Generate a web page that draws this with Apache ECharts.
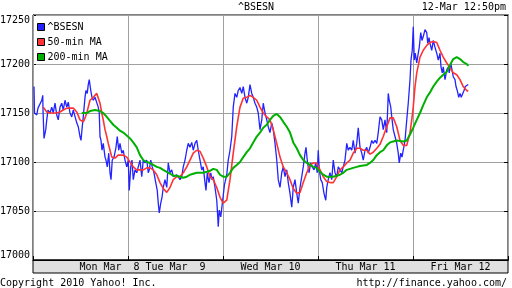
<!DOCTYPE html>
<html>
<head>
<meta charset="utf-8">
<script src="https://cdn.jsdelivr.net/npm/echarts@6/dist/echarts.min.js"></script>
<style>
html,body{margin:0;padding:0;background:#fff;}
#chart{width:512px;height:288px;}
</style>
</head>
<body>
<div id="chart"></div>
<script>
// time: trading minutes since Monday open (one trading day = 380 units on the axis)
const dayLabels = ['Mon Mar  8', 'Tue Mar  9', 'Wed Mar 10', 'Thu Mar 11', 'Fri Mar 12'];
const yTicks = [17000, 17050, 17100, 17150, 17200, 17250];

const bsesn = [[4,17177],[6,17150],[15,17148],[20,17155],[28,17156],[35,17163],[39,17168],[40,17153],[44,17124],[51,17133],[55,17143],[60,17153],[68,17150],[75,17156],[81,17150],[88,17160],[95,17148],[101,17143],[108,17156],[115,17160],[121,17153],[128,17163],[135,17156],[141,17161],[148,17150],[155,17146],[161,17153],[168,17155],[175,17140],[181,17136],[188,17126],[192,17122],[197,17136],[201,17146],[208,17166],[212,17173],[217,17170],[221,17179],[225,17184],[231,17173],[236,17166],[241,17163],[248,17166],[255,17168],[261,17156],[265,17150],[268,17126],[272,17122],[276,17112],[281,17119],[288,17105],[292,17102],[297,17095],[303,17109],[308,17089],[312,17082],[317,17102],[324,17105],[332,17115],[337,17126],[343,17112],[348,17119],[355,17109],[361,17112],[368,17102],[375,17095],[381,17102],[385,17071],[391,17095],[396,17102],[401,17082],[408,17092],[415,17089],[421,17095],[428,17102],[435,17085],[441,17102],[448,17099],[455,17102],[461,17089],[465,17092],[471,17102],[477,17095],[484,17089],[491,17079],[497,17071],[501,17058],[505,17048],[511,17058],[516,17064],[521,17074],[528,17082],[535,17074],[541,17099],[548,17089],[555,17092],[561,17085],[568,17084],[575,17087],[581,17085],[588,17082],[595,17085],[601,17095],[608,17102],[615,17112],[621,17119],[628,17115],[635,17120],[641,17112],[648,17119],[655,17122],[661,17112],[668,17102],[675,17092],[681,17095],[688,17079],[692,17071],[697,17089],[704,17079],[711,17089],[716,17082],[721,17085],[728,17074],[735,17061],[739,17044],[741,17034],[745,17051],[751,17044],[757,17046],[766,17077],[775,17087],[781,17102],[788,17112],[795,17126],[801,17156],[808,17170],[815,17166],[821,17173],[828,17176],[835,17170],[841,17177],[848,17166],[855,17160],[861,17166],[868,17179],[875,17170],[881,17166],[888,17160],[895,17156],[901,17150],[908,17133],[915,17143],[921,17160],[928,17150],[935,17143],[941,17136],[948,17130],[955,17140],[961,17133],[968,17119],[975,17102],[981,17082],[988,17074],[995,17089],[1001,17095],[1008,17085],[1015,17092],[1021,17079],[1028,17068],[1035,17054],[1041,17074],[1048,17082],[1055,17068],[1061,17058],[1068,17074],[1075,17085],[1081,17095],[1088,17109],[1092,17115],[1097,17102],[1104,17089],[1111,17099],[1117,17095],[1124,17092],[1131,17099],[1137,17089],[1141,17112],[1145,17092],[1151,17082],[1157,17079],[1164,17068],[1171,17061],[1175,17074],[1181,17082],[1188,17089],[1195,17082],[1201,17102],[1208,17089],[1215,17085],[1221,17095],[1228,17092],[1235,17089],[1241,17095],[1248,17102],[1255,17119],[1261,17112],[1268,17115],[1275,17112],[1281,17122],[1288,17109],[1295,17119],[1301,17135],[1308,17115],[1315,17109],[1321,17102],[1328,17112],[1335,17115],[1341,17109],[1348,17115],[1355,17122],[1361,17119],[1368,17122],[1375,17119],[1381,17130],[1388,17146],[1395,17143],[1401,17133],[1408,17143],[1415,17130],[1419,17156],[1421,17170],[1425,17163],[1431,17156],[1435,17146],[1441,17133],[1448,17126],[1455,17119],[1461,17109],[1465,17099],[1471,17109],[1476,17105],[1481,17112],[1488,17122],[1495,17143],[1501,17160],[1508,17184],[1512,17204],[1517,17214],[1521,17238],[1525,17204],[1529,17211],[1535,17201],[1541,17211],[1545,17217],[1551,17232],[1556,17224],[1561,17228],[1568,17235],[1575,17232],[1579,17221],[1584,17227],[1588,17221],[1595,17214],[1601,17224],[1608,17217],[1615,17211],[1621,17204],[1628,17211],[1632,17197],[1637,17191],[1641,17197],[1648,17184],[1655,17194],[1661,17197],[1665,17191],[1671,17201],[1676,17194],[1681,17187],[1688,17184],[1692,17177],[1697,17173],[1703,17166],[1708,17170],[1713,17166],[1719,17166],[1724,17173],[1729,17177],[1735,17179],[1741,17179]];

const ma50 = [[41,17156],[55,17151],[68,17150],[95,17150],[108,17151],[121,17153],[135,17155],[161,17155],[175,17151],[188,17143],[201,17141],[208,17145],[215,17150],[221,17156],[228,17163],[241,17166],[255,17170],[261,17168],[268,17160],[275,17150],[281,17143],[288,17133],[295,17126],[301,17119],[308,17112],[315,17105],[321,17105],[328,17104],[335,17105],[341,17107],[361,17107],[375,17105],[388,17100],[401,17095],[415,17092],[441,17092],[455,17094],[468,17094],[481,17092],[495,17087],[508,17079],[521,17073],[535,17069],[541,17071],[548,17074],[561,17082],[575,17085],[588,17085],[601,17089],[615,17095],[628,17102],[641,17109],[655,17112],[668,17111],[681,17104],[695,17095],[708,17085],[721,17082],[735,17074],[748,17064],[761,17058],[775,17061],[788,17082],[801,17109],[815,17136],[828,17156],[841,17165],[855,17166],[868,17168],[881,17166],[895,17163],[908,17156],[921,17150],[935,17146],[948,17143],[961,17133],[975,17119],[988,17105],[1001,17095],[1015,17089],[1028,17082],[1041,17073],[1055,17068],[1068,17069],[1081,17079],[1095,17089],[1108,17097],[1121,17099],[1135,17099],[1148,17092],[1161,17085],[1175,17080],[1188,17079],[1201,17079],[1215,17085],[1228,17092],[1241,17095],[1255,17099],[1268,17102],[1281,17109],[1295,17114],[1308,17114],[1321,17112],[1335,17112],[1348,17108],[1361,17110],[1375,17114],[1388,17118],[1401,17126],[1415,17136],[1428,17145],[1435,17146],[1441,17145],[1455,17136],[1468,17122],[1481,17117],[1495,17117],[1501,17119],[1508,17130],[1515,17143],[1521,17156],[1528,17177],[1535,17191],[1548,17207],[1561,17214],[1575,17219],[1588,17222],[1601,17223],[1615,17222],[1628,17214],[1641,17207],[1655,17201],[1668,17196],[1681,17191],[1695,17189],[1708,17184],[1721,17177],[1735,17173],[1741,17172]];

const ma200 = [[195,17150],[215,17150],[228,17152],[248,17153],[268,17152],[281,17150],[295,17146],[308,17142],[321,17138],[335,17135],[348,17132],[361,17130],[375,17127],[388,17124],[401,17120],[415,17115],[428,17107],[441,17102],[455,17100],[468,17099],[481,17097],[495,17095],[508,17094],[521,17092],[535,17090],[548,17088],[561,17086],[575,17086],[588,17085],[601,17084],[615,17085],[628,17087],[641,17088],[655,17089],[681,17089],[695,17090],[708,17091],[721,17093],[735,17092],[748,17087],[761,17085],[775,17085],[788,17089],[801,17094],[815,17097],[828,17100],[841,17105],[855,17110],[868,17114],[881,17120],[895,17126],[908,17130],[921,17135],[935,17138],[948,17143],[961,17147],[968,17149],[975,17149],[988,17146],[1001,17141],[1015,17136],[1028,17130],[1041,17120],[1055,17114],[1068,17107],[1081,17102],[1095,17099],[1108,17097],[1121,17095],[1135,17094],[1148,17090],[1161,17087],[1175,17085],[1188,17085],[1201,17085],[1215,17086],[1228,17087],[1241,17089],[1255,17092],[1268,17093],[1281,17094],[1295,17095],[1308,17096],[1335,17097],[1348,17099],[1361,17102],[1375,17107],[1388,17110],[1401,17112],[1415,17117],[1428,17120],[1441,17121],[1455,17122],[1481,17121],[1495,17122],[1508,17128],[1521,17135],[1535,17143],[1548,17150],[1561,17158],[1575,17166],[1588,17171],[1601,17177],[1615,17182],[1628,17186],[1641,17189],[1655,17192],[1668,17199],[1681,17205],[1695,17207],[1708,17205],[1721,17202],[1735,17200],[1741,17198]];

const FONT = 'DejaVu Sans Mono';
const chart = echarts.init(document.getElementById('chart'), null, {renderer: 'canvas'});
const txt = {fontFamily: FONT, fontSize: 10, fontWeight: 'normal', color: '#000'};

const option = {
  animation: false,
  backgroundColor: '#ffffff',
  title: [
    {text: '^BSESN', left: 'center', top: 2, padding: 0, textStyle: txt},
    {text: '12-Mar 12:50pm', right: 6, top: 2, padding: 0, textStyle: txt},
    {text: 'Copyright 2010 Yahoo! Inc.', left: 0, bottom: 0, padding: 0, textStyle: txt},
    {text: 'http://finance.yahoo.com/', right: 5, bottom: 0, padding: 0, textStyle: txt}
  ],
  legend: {
    orient: 'vertical', left: 37, top: 22, padding: 0,
    itemWidth: 7, itemHeight: 7, itemGap: 5,
    textStyle: {fontFamily: FONT, fontSize: 10, color: '#000', padding: [0, 0, 0, -2]},
    itemStyle: {borderColor: '#000', borderWidth: 1},
    data: [{name: '^BSESN', icon: 'rect'}, {name: '50-min MA', icon: 'rect'}, {name: '200-min MA', icon: 'rect'}]
  },
  graphic: [
    {type: 'rect', z: 0, shape: {x: 33, y: 260, width: 475, height: 13}, style: {fill: '#e0e0e0', stroke: '#000', lineWidth: 1}}
  ],
  grid: {left: 33, right: 4, top: 15, bottom: 28, containLabel: false, outerBoundsMode: 'none',
    show: true, borderColor: '#000', borderWidth: 1, backgroundColor: 'transparent'},
  xAxis: [
    {
      type: 'value', min: 0, max: 1900, interval: 380, z: 3,
      axisLine: {show: true, lineStyle: {color: '#000', width: 1}},
      axisTick: {show: true, inside: true, length: 4, lineStyle: {color: '#000'}},
      axisLabel: {show: false},
      splitLine: {show: true, lineStyle: {color: '#a0a0a0', width: 1}}
    },
    {
      type: 'category', data: dayLabels, position: 'bottom', boundaryGap: true, z: 5,
      axisLine: {show: false}, axisTick: {show: false}, splitLine: {show: false},
      axisLabel: {
        margin: 2, fontFamily: FONT, fontSize: 10, color: '#000', interval: 0,
        formatter: function (v, i) { return i === 0 ? '{s|' + v + '}' : v; },
        rich: {s: {fontFamily: FONT, fontSize: 10, color: '#000', padding: [0, 0, 0, 58]}}
      }
    }
  ],
  yAxis: [
    {
      type: 'value', min: yTicks[0], max: yTicks[yTicks.length - 1], interval: 50, position: 'left',
      axisLine: {show: true, lineStyle: {color: '#000', width: 1}},
      axisTick: {show: true, inside: true, length: 3, lineStyle: {color: '#000'}},
      axisLabel: {margin: 3, fontFamily: FONT, fontSize: 10, color: '#000',
        formatter: function (v) { return String(v); },
        verticalAlignMinLabel: 'bottom', verticalAlignMaxLabel: 'top'},
      splitLine: {show: true, lineStyle: {color: '#a0a0a0', width: 1}}
    },
    {
      type: 'value', min: yTicks[0], max: yTicks[yTicks.length - 1], interval: 50, position: 'right',
      axisLine: {show: true, lineStyle: {color: '#000', width: 1}},
      axisTick: {show: true, inside: true, length: 4, lineStyle: {color: '#000'}},
      axisLabel: {show: false},
      splitLine: {show: false}
    }
  ],
  series: [
    {name: '^BSESN', type: 'line', data: bsesn, xAxisIndex: 0, yAxisIndex: 0, showSymbol: false, symbol: 'none',
      color: '#2323ff', lineStyle: {color: '#2323ff', width: 1.3}, z: 3, emphasis: {disabled: true}},
    {name: '50-min MA', type: 'line', data: ma50, xAxisIndex: 0, yAxisIndex: 0, showSymbol: false, symbol: 'none',
      color: '#ff3333', lineStyle: {color: '#ff3333', width: 1.6}, z: 4, emphasis: {disabled: true}},
    {name: '200-min MA', type: 'line', data: ma200, xAxisIndex: 0, yAxisIndex: 0, showSymbol: false, symbol: 'none',
      color: '#00b000', lineStyle: {color: '#00b000', width: 2}, z: 5, emphasis: {disabled: true}}
  ]
};
chart.setOption(option);
</script>
</body>
</html>
